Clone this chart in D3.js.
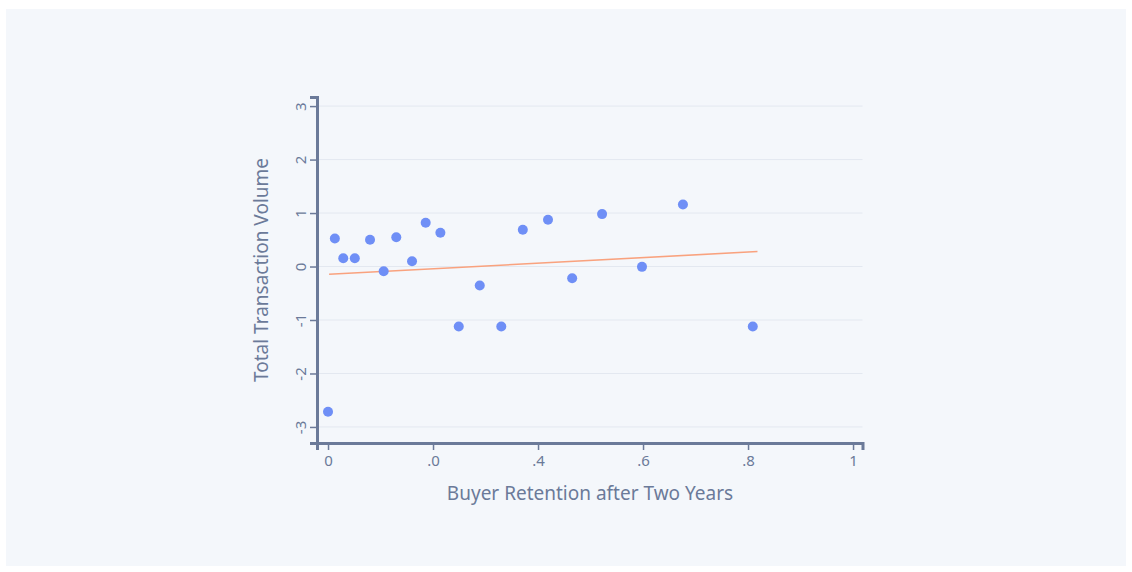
<!DOCTYPE html>
<html><head><meta charset="utf-8">
<script src="https://cdn.jsdelivr.net/npm/d3@7"></script>
<style>
html,body{margin:0;padding:0;background:#fff;}
svg{display:block;font-family:"Noto Sans","Open Sans",sans-serif;}
</style></head>
<body><svg id="c" width="1132" height="572"></svg>
<script>
const retention = [0.0, 0.013, 0.029, 0.051, 0.080, 0.106, 0.130, 0.160, 0.186, 0.214, 0.249, 0.289, 0.330, 0.371, 0.419, 0.465, 0.522, 0.598, 0.676, 0.809];
const volume    = [-2.715, 0.524, 0.155, 0.155, 0.50, -0.088, 0.549, 0.10, 0.818, 0.63, -1.12, -0.356, -1.12, 0.687, 0.874, -0.219, 0.98, -0.006, 1.16, -1.12];
const fitX = [0.002, 0.818];
const fitY = [-0.145, 0.28];
const xTickValues = [0, 0.2, 0.4, 0.6, 0.8, 1];
const xTickLabels = ["0", ".0", ".4", ".6", ".8", "1"];
const yTickValues = [-3, -2, -1, 0, 1, 2, 3];
const yTickLabels = ["-3", "-2", "-1", "0", "1", "2", "3"];
const xTitle = "Buyer Retention after Two Years";
const yTitle = "Total Transaction Volume";

const svg = d3.select("#c");
const axisColor = "#6b7a99";
svg.append("rect").attr("x",6).attr("y",9).attr("width",1120).attr("height",557).attr("fill","#f4f7fb");

const x = d3.scaleLinear().domain([-0.021, 1.018]).range([317, 862.5]);
const y = d3.scaleLinear().domain([-3.3, 3.17]).range([443, 97]);

// grid
svg.append("g").selectAll("line").data(yTickValues).join("line")
  .attr("x1", x.range()[0]).attr("x2", x.range()[1])
  .attr("y1", d=>y(d)).attr("y2", d=>y(d))
  .attr("stroke","#e3e8f0").attr("stroke-width",1);

// fit line
svg.append("path")
  .datum(fitX.map((v,i)=>[v, fitY[i]]))
  .attr("d", d3.line().x(d=>x(d[0])).y(d=>y(d[1])))
  .attr("fill","none").attr("stroke","#f9a27e").attr("stroke-width",1.6);

// points
svg.append("g").selectAll("circle").data(retention.map((v,i)=>[v, volume[i]])).join("circle")
  .attr("cx", d=>x(d[0])).attr("cy", d=>y(d[1])).attr("r",5)
  .attr("fill","#6f8ff6");

// x axis
const gx = svg.append("g").attr("transform",`translate(0,${y.range()[0]})`)
  .call(d3.axisBottom(x).tickValues(xTickValues).tickFormat((d,i)=>xTickLabels[i]).tickSizeOuter(0).tickSize(7).tickPadding(5));
gx.select(".domain").attr("stroke",axisColor).attr("stroke-width",3);
gx.selectAll(".tick line").attr("stroke",axisColor).attr("stroke-width",1.5);
gx.selectAll(".tick text").attr("fill",axisColor).attr("font-size",15).attr("font-family","Noto Sans, Open Sans, sans-serif");

// y axis
const gy = svg.append("g").attr("transform",`translate(${x.range()[0]},0)`)
  .call(d3.axisLeft(y).tickValues(yTickValues).tickFormat((d,i)=>yTickLabels[i]).tickSizeOuter(0).tickSize(7));
gy.select(".domain").attr("stroke",axisColor).attr("stroke-width",3);
gy.selectAll(".tick line").attr("stroke",axisColor).attr("stroke-width",1.5);
gy.selectAll(".tick text").attr("fill",axisColor).attr("font-size",15)
  .attr("font-family","Noto Sans, Open Sans, sans-serif")
  .attr("x",0).attr("dy",null).attr("text-anchor","middle")
  .attr("transform","translate(-17,0) rotate(-90)").attr("dominant-baseline","central");

// titles
svg.append("text").attr("x", 590).attr("y", 500).attr("text-anchor","middle")
  .attr("fill",axisColor).attr("font-size",19).text(xTitle);
svg.append("text").attr("transform",`translate(268,${(y.range()[0]+y.range()[1])/2}) rotate(-90)`)
  .attr("text-anchor","middle").attr("fill",axisColor).attr("font-size",19).text(yTitle);
</script></body></html>
